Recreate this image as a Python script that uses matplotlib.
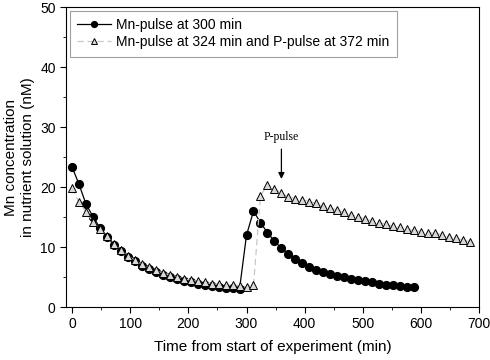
import matplotlib.pyplot as plt
from matplotlib.ticker import MultipleLocator

plt.rcParams['font.family'] = ['Liberation Sans', 'DejaVu Sans']

# Mn-pulse at 300 min
t_mn = [0, 12, 24, 36, 48, 60, 72, 84, 96, 108, 120, 132, 144, 156, 168, 180,
        192, 204, 216, 228, 240, 252, 264, 276, 288, 300, 312, 324, 336, 348,
        360, 372, 384, 396, 408, 420, 432, 444, 456, 468, 480, 492, 504, 516,
        528, 540, 552, 564, 576, 588]
mn = [23.4, 20.5, 17.2, 15.1, 13.2, 11.7, 10.4, 9.3, 8.3, 7.6, 6.9, 6.3, 5.8,
      5.4, 5.0, 4.7, 4.4, 4.1, 3.9, 3.7, 3.5, 3.3, 3.2, 3.1, 3.0, 12.0, 16.0,
      14.1, 12.4, 11.0, 9.8, 8.9, 8.0, 7.3, 6.7, 6.2, 5.8, 5.5, 5.2, 5.0, 4.7,
      4.5, 4.3, 4.1, 3.9, 3.7, 3.6, 3.5, 3.4, 3.3]

# Mn-pulse at 324 min and P-pulse at 372 min
t_mnp = [0, 12, 24, 36, 48, 60, 72, 84, 96, 108, 120, 132, 144, 156, 168, 180,
         192, 204, 216, 228, 240, 252, 264, 276, 288, 300, 312, 324, 336, 348,
         360, 372, 384, 396, 408, 420, 432, 444, 456, 468, 480, 492, 504, 516,
         528, 540, 552, 564, 576, 588, 600, 612, 624, 636, 648, 660, 672, 684]
mnp = [19.8, 17.5, 15.9, 14.2, 13.0, 11.8, 10.6, 9.5, 8.6, 7.8, 7.1, 6.6, 6.1,
       5.7, 5.3, 5.0, 4.7, 4.5, 4.3, 4.1, 3.9, 3.8, 3.7, 3.6, 3.5, 3.4, 3.6,
       18.5, 20.4, 19.7, 19.0, 18.4, 18.1, 17.9, 17.6, 17.3, 16.9, 16.5, 16.2,
       15.8, 15.4, 15.0, 14.7, 14.4, 14.1, 13.8, 13.5, 13.3, 13.0, 12.8, 12.6,
       12.4, 12.3, 12.1, 11.7, 11.5, 11.2, 10.9]

fig = plt.figure(figsize=(4.9, 3.6), dpi=100)
ax = fig.add_axes([0.135, 0.147, 0.843, 0.833])

ax.plot(t_mn, mn, '-o', color='black', lw=0.9, ms=5.6,
        label='Mn-pulse at 300 min', zorder=3)
ax.plot(t_mnp, mnp, '--^', color='#c8c8c8', lw=0.9, ms=5.8, mfc='#d8d8d8',
        mec='black', mew=0.7, dashes=(5, 3),
        label='Mn-pulse at 324 min and P-pulse at 372 min', zorder=4)

ax.annotate('', xy=(360, 20.9), xytext=(360, 26.8),
            arrowprops=dict(arrowstyle='-|>', color='black', lw=0.9,
                            mutation_scale=9))
ax.text(360, 28.3, 'P-pulse', family='Liberation Serif', fontsize=8.5,
        ha='center', va='center')

ax.set_xlim(-10, 700)
ax.set_ylim(0, 50)
ax.xaxis.set_major_locator(MultipleLocator(100))
ax.xaxis.set_minor_locator(MultipleLocator(50))
ax.yaxis.set_major_locator(MultipleLocator(10))
ax.yaxis.set_minor_locator(MultipleLocator(5))
ax.tick_params(which='both', direction='out', labelsize=10)
ax.tick_params(which='major', length=4)
ax.tick_params(which='minor', length=2.5)

ax.set_xlabel('Time from start of experiment (min)', fontsize=11, labelpad=6)
ax.set_ylabel('Mn concentration\nin nutrient solution (nM)', fontsize=11,
              labelpad=4)

leg = ax.legend(loc='upper left', fontsize=10, frameon=True, fancybox=False,
                edgecolor='#888888', handlelength=2.4, handletextpad=0.4,
                borderpad=0.55, labelspacing=0.2, borderaxespad=0.25,
                markerscale=0.75)
leg.get_frame().set_linewidth(0.8)

fig.savefig('out.png', dpi=100)
